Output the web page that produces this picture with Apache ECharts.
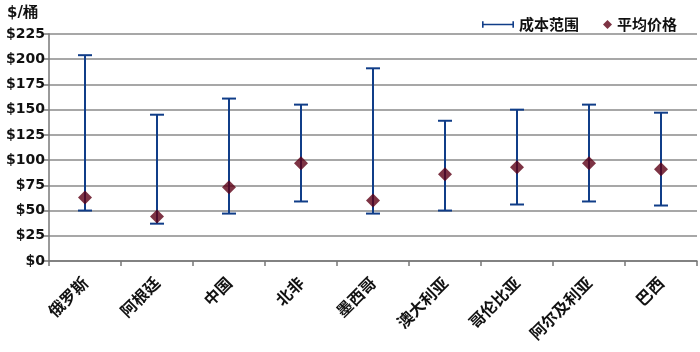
<!DOCTYPE html>
<html>
<head>
<meta charset="utf-8">
<script src="https://cdn.jsdelivr.net/npm/echarts@6/dist/echarts.min.js"></script>
<style>
  html, body { margin: 0; padding: 0; background: #fff; }
  #chart { width: 700px; height: 352px; }
</style>
</head>
<body>
<div id="chart"></div>
<script>
// data
const categories = ["俄罗斯", "阿根廷", "中国", "北非", "墨西哥", "澳大利亚", "哥伦比亚", "阿尔及利亚", "巴西"];
const costLow = [50, 37, 47, 59, 47, 50, 56, 59, 55];
const costHigh = [204, 145, 161, 155, 191, 139, 150, 155, 147];
const avgPrice = [63, 44, 73, 97, 60, 86, 93, 97, 91];
const yTicks = [0, 25, 50, 75, 100, 125, 150, 175, 200, 225];

const barColor = "#103d88";
const dotColor = "#5c0015";
const numFont = '"DejaVu Sans", sans-serif';
const cjkFont = '"Noto Sans CJK SC", sans-serif';

const rangeData = categories.map((c, i) => [i, costLow[i], costHigh[i]]);

const legendText = { fontSize: 15, fontWeight: "bold", color: "#111", fontFamily: cjkFont };

const myChart = echarts.init(document.getElementById("chart"));
const option = {
  backgroundColor: "#fff",
  animation: false,
  title: {
    text: "$/桶",
    left: 2,
    top: 1,
    textStyle: { fontSize: 15, fontWeight: "bold", color: "#111", fontFamily: numFont },
  },
  legend: [
    {
      top: 12,
      right: 116,
      itemWidth: 32,
      itemHeight: 7,
      textStyle: legendText,
      data: [
        {
          name: "成本范围",
          icon: "path://M0,0h2v3h36v-3h2v8h-2v-3h-36v3h-2z",
          itemStyle: { color: barColor },
        },
      ],
    },
    {
      top: 12,
      right: 18,
      itemWidth: 9,
      itemHeight: 9,
      textStyle: legendText,
      data: [{ name: "平均价格", icon: "diamond", itemStyle: { color: dotColor } }],
    },
  ],
  grid: { left: 49, right: 3, top: 34, bottom: 91 },
  xAxis: {
    type: "category",
    data: categories,
    boundaryGap: true,
    axisLine: { lineStyle: { color: "#777", width: 1.5 } },
    axisTick: { show: true, length: 5, lineStyle: { color: "#777", width: 1.5 } },
    axisLabel: {
      rotate: 45,
      interval: 0,
      margin: 19,
      fontSize: 16,
      fontWeight: "bold",
      color: "#111",
      fontFamily: cjkFont,
    },
  },
  yAxis: {
    type: "value",
    min: yTicks[0],
    max: yTicks[yTicks.length - 1],
    interval: 25,
    axisLine: { show: true, lineStyle: { color: "#777", width: 1.5 } },
    axisTick: { show: true, length: 5, lineStyle: { color: "#777", width: 1.5 } },
    axisLabel: {
      formatter: "${value}",
      fontSize: 14,
      fontWeight: "bold",
      color: "#111",
      fontFamily: numFont,
      margin: 4,
    },
    splitLine: { lineStyle: { color: "#8a8a8a", width: 1.5 } },
  },
  series: [
    {
      name: "成本范围",
      type: "custom",
      data: rangeData,
      itemStyle: { color: barColor },
      encode: { x: 0, y: [1, 2] },
      renderItem: function (params, api) {
        const x = api.value(0);
        const lo = api.coord([x, api.value(1)]);
        const hi = api.coord([x, api.value(2)]);
        const half = 7;
        const style = { stroke: barColor, lineWidth: 2, fill: null };
        return {
          type: "group",
          children: [
            { type: "line", shape: { x1: lo[0], y1: lo[1], x2: hi[0], y2: hi[1] }, style: style },
            { type: "line", shape: { x1: hi[0] - half, y1: hi[1], x2: hi[0] + half, y2: hi[1] }, style: style },
            { type: "line", shape: { x1: lo[0] - half, y1: lo[1], x2: lo[0] + half, y2: lo[1] }, style: style },
          ],
        };
      },
      z: 2,
    },
    {
      name: "平均价格",
      type: "scatter",
      data: avgPrice,
      symbol: "diamond",
      symbolSize: 14,
      itemStyle: { color: dotColor },
      z: 3,
    },
  ],
};
myChart.setOption(option);
</script>
</body>
</html>
